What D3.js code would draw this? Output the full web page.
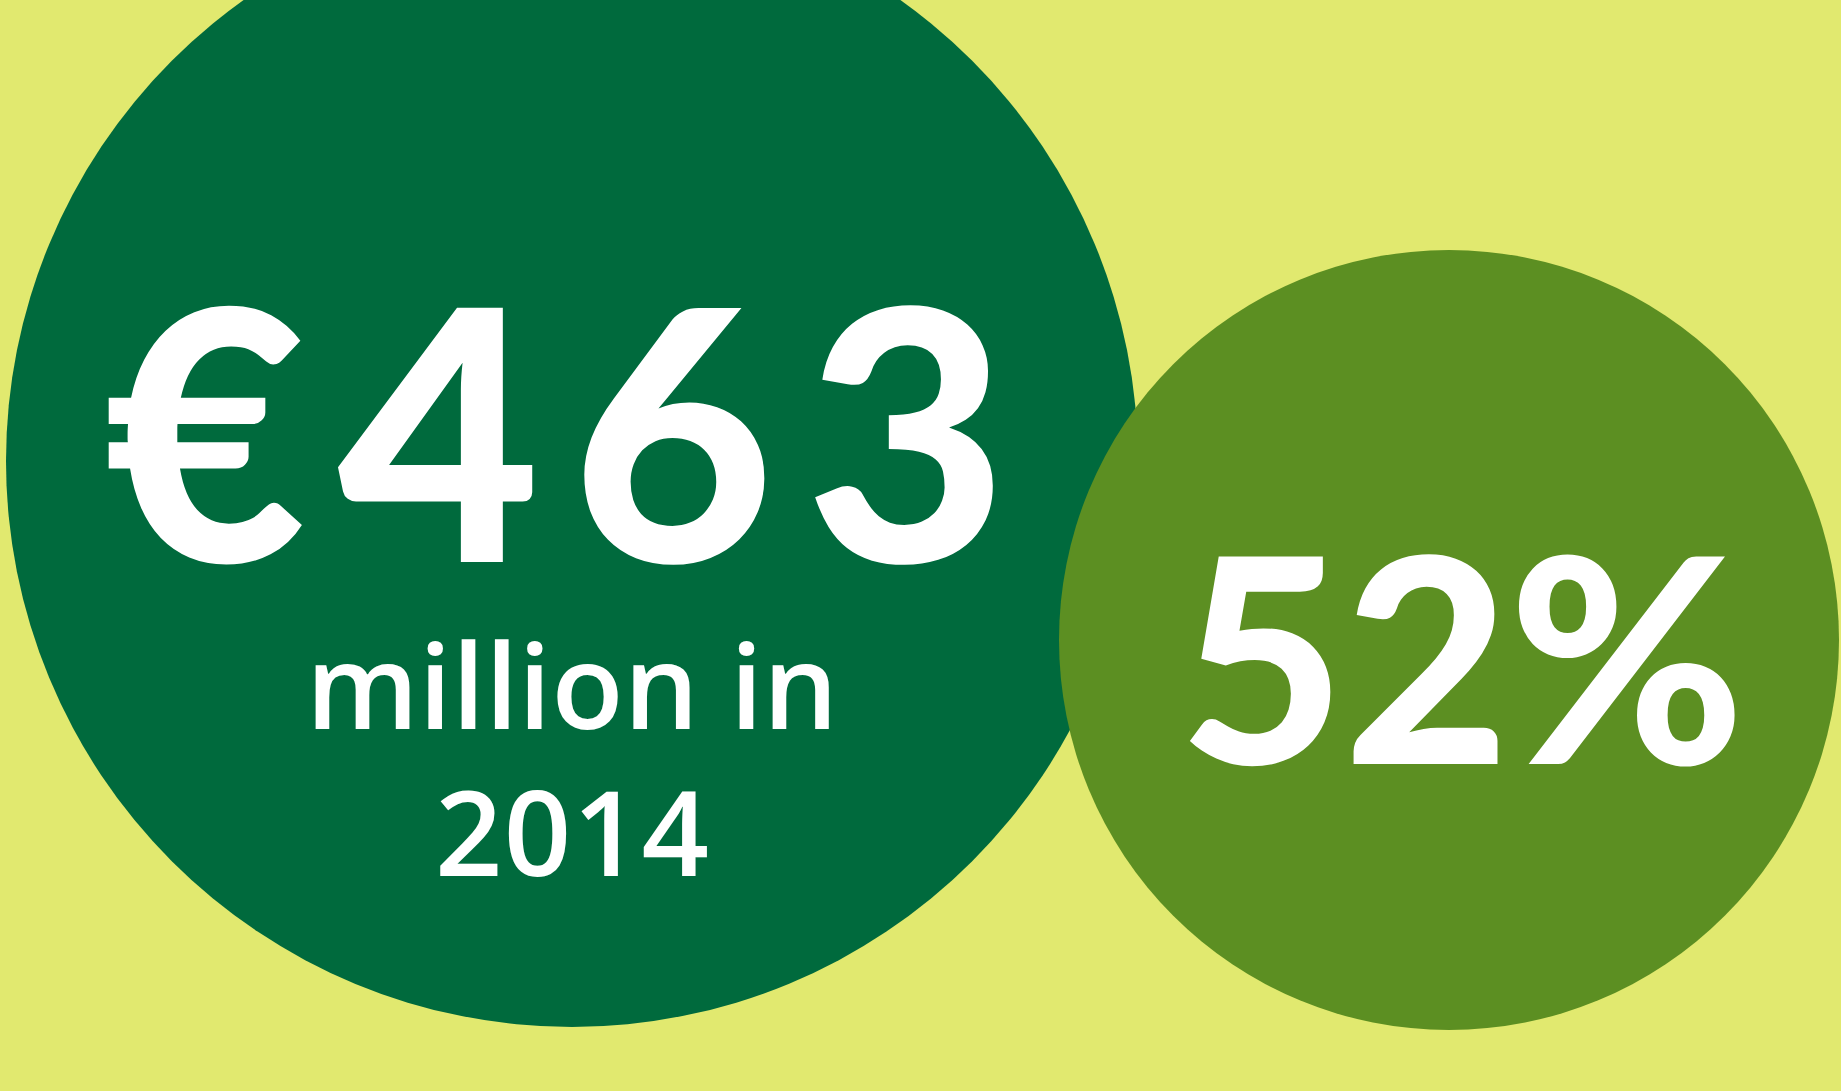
<!DOCTYPE html>
<html>
<head>
<meta charset="utf-8">
<script src="https://cdn.jsdelivr.net/npm/d3@7"></script>
<style>
  html, body { margin: 0; padding: 0; background: #e1e96f; overflow: hidden; }
  svg { display: block; }
</style>
</head>
<body>
<svg width="1841" height="1091"></svg>
<script>
var svg = d3.select("svg"),
  width = +svg.attr("width"),
  height = +svg.attr("height");

// figures shown in the two bubbles
var stats = ["spend", "share"];
var figures = ["€463", "52%"];
var captions = [["million in", "2014"], []];

var color = d3.scaleOrdinal()
  .domain(stats)
  .range(["#006a3d", "#5c8f22"]);

// bubble layout (px)
var cx = d3.scaleOrdinal().domain(stats).range([572, 1449]),
  cy = d3.scaleOrdinal().domain(stats).range([461, 640]),
  r = d3.scaleOrdinal().domain(stats).range([566, 390]);

svg.append("rect")
  .attr("width", width)
  .attr("height", height)
  .attr("fill", "#e1e96f");

var bubbles = svg.selectAll(null)
  .data(stats)
  .enter()
  .append("g");

bubbles.append("circle")
  .attr("cx", function(d) { return cx(d) })
  .attr("cy", function(d) { return cy(d) })
  .attr("r", function(d) { return r(d) })
  .attr("fill", function(d) { return color(d) });

// big numbers
var big = {spend: {x: 556, y: 562, size: 350, w: 904}, share: {x: 1462, y: 764, size: 286, w: 566}};

bubbles.append("text")
  .attr("x", function(d) { return big[d].x })
  .attr("y", function(d) { return big[d].y })
  .attr("text-anchor", "middle")
  .attr("fill", "#fff")
  .style("font-family", "Lato, 'Open Sans', sans-serif")
  .style("font-weight", 900)
  .style("font-size", function(d) { return big[d].size + "px" })
  .attr("textLength", function(d) { return big[d].w })
  .attr("lengthAdjust", "spacing")
  .text(function(d, i) { return figures[i] });

// caption lines
bubbles.each(function(d, i) {
  d3.select(this).selectAll("text.cap")
    .data(captions[i])
    .enter()
    .append("text")
    .attr("class", "cap")
    .attr("x", cx(d))
    .attr("y", function(t, j) { return 729 + j * 147 })
    .attr("text-anchor", "middle")
    .attr("fill", "#fff")
    .style("font-family", "'Open Sans', sans-serif")
    .style("font-weight", 600)
    .style("font-size", "118px")
    .attr("textLength", function(t) { return t.length > 5 ? 532 : 274 })
    .attr("lengthAdjust", "spacing")
    .text(function(t) { return t });
});
</script>
</body>
</html>
